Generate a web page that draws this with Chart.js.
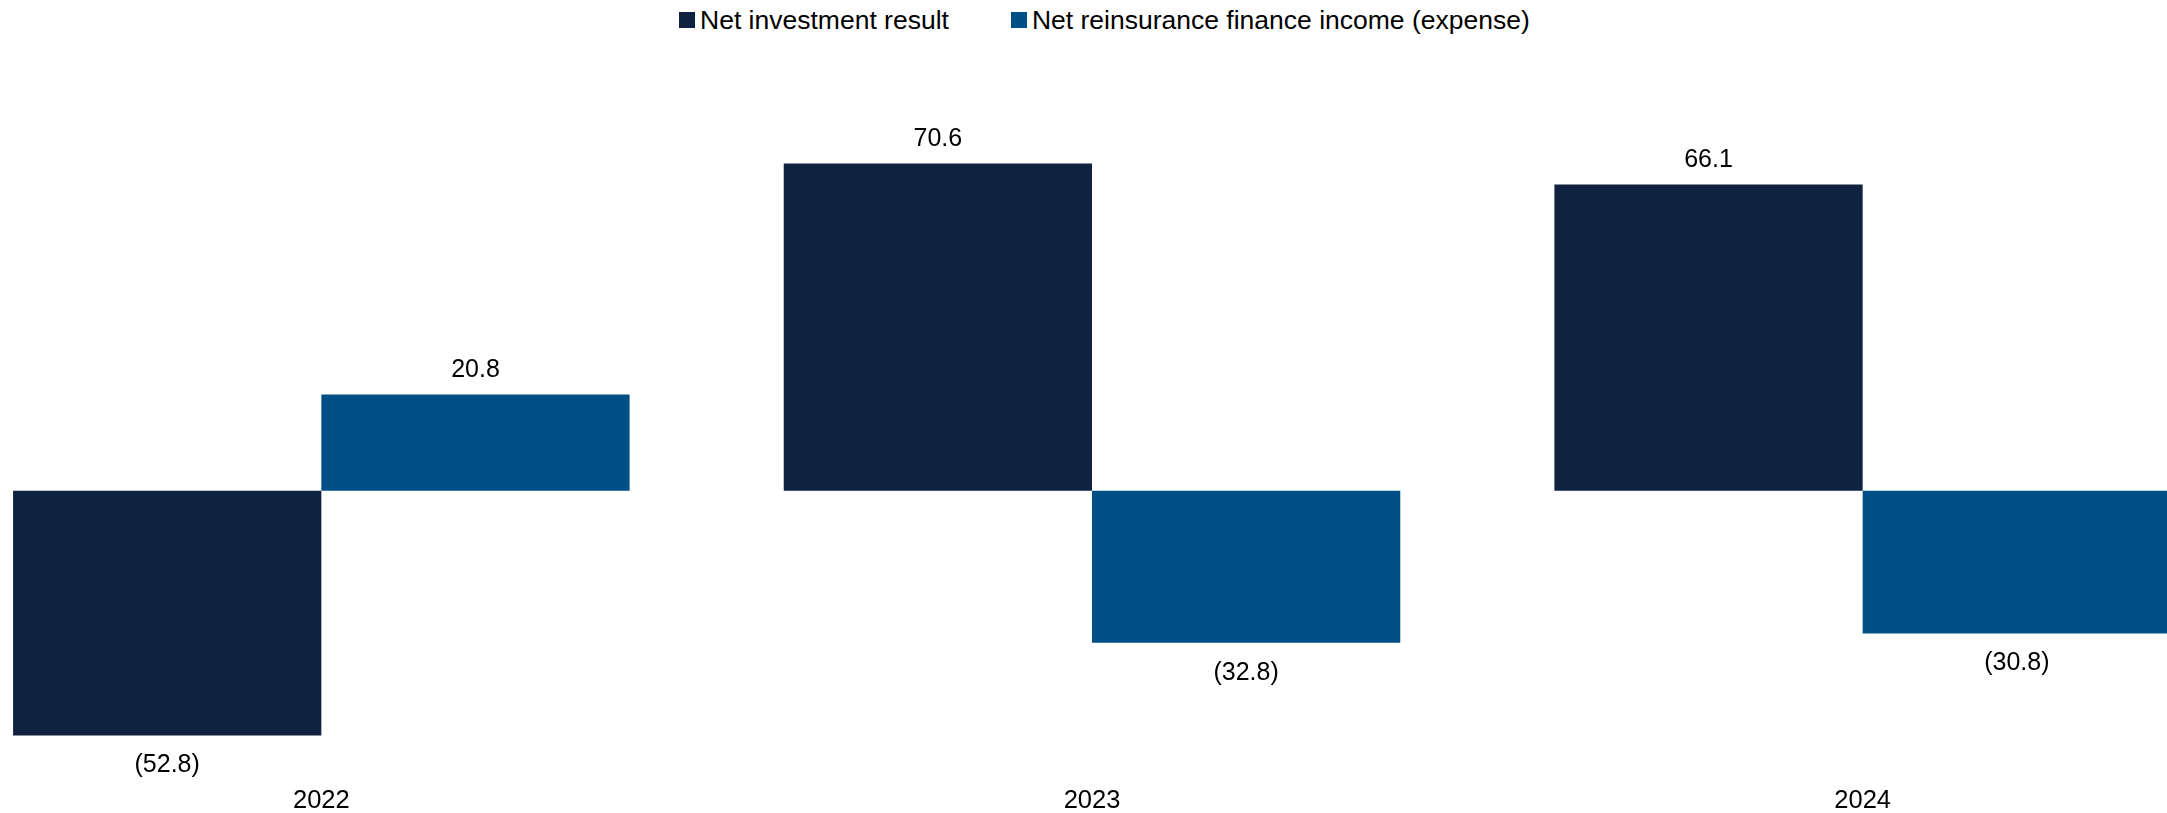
<!DOCTYPE html>
<html>
<head>
<meta charset="utf-8">
<script src="https://cdn.jsdelivr.net/npm/chart.js@4/dist/chart.umd.min.js"></script>
<style>
  html, body { margin: 0; padding: 0; background: #fff; }
  #wrap { position: relative; width: 2167px; height: 813px; overflow: hidden; }
  #chart-box { position: absolute; left: -64px; top: 0; width: 2312px; height: 813px; }
  #legend {
    position: absolute; left: 679px; top: 7px;
    display: flex; align-items: center;
    font: 26.5px "Liberation Sans", Arial, sans-serif; line-height: 26px; color: #000;
  }
  .leg-item { display: flex; align-items: center; margin-right: 62px; }
  .leg-box { width: 16px; height: 16px; margin-right: 5px; }
</style>
</head>
<body>
<div id="wrap">
  <div id="legend"></div>
  <div id="chart-box"><canvas id="chart" width="2312" height="813"></canvas></div>
</div>
<script>
// Годы и значения по двум рядам
const years = ['2022', '2023', '2024'];
const seriesNames = ['Net investment result', 'Net reinsurance finance income (expense)'];
const investmentResult = [-52.8, 70.6, 66.1];
const reinsuranceFinance = [20.8, -32.8, -30.8];
const seriesColors = ['#0f2340', '#005087'];

const FONT = '"Liberation Sans", Arial, sans-serif';

// Формат подписи: отрицательные в скобках
function fmt(v) {
    return v < 0 ? `(${Math.abs(v).toFixed(1)})` : v.toFixed(1);
}

// Подписи значений над/под столбцами
const valueLabels = {
    id: 'valueLabels',
    afterDatasetsDraw(chart) {
        const ctx = chart.ctx;
        ctx.save();
        ctx.font = `25px ${FONT}`;
        ctx.fillStyle = '#000';
        ctx.textAlign = 'center';
        ctx.textBaseline = 'middle';
        chart.data.datasets.forEach((ds, i) => {
            chart.getDatasetMeta(i).data.forEach((bar, j) => {
                const v = ds.data[j];
                const y = v >= 0 ? bar.y - 24 : bar.y + 30;
                ctx.fillText(fmt(v), bar.x, y);
            });
        });
        ctx.restore();
    }
};

// Легенда
document.getElementById('legend').innerHTML = seriesNames.map((name, i) => `
    <div class="leg-item"><div class="leg-box" style="background:${seriesColors[i]}"></div>${name}</div>
`).join('');

const ctx = document.getElementById('chart').getContext('2d');
new Chart(ctx, {
    type: 'bar',
    data: {
        labels: years,
        datasets: [{
            label: seriesNames[0],
            data: investmentResult,
            backgroundColor: seriesColors[0]
        }, {
            label: seriesNames[1],
            data: reinsuranceFinance,
            backgroundColor: seriesColors[1]
        }]
    },
    options: {
        responsive: false,
        animation: false,
        devicePixelRatio: 1,
        categoryPercentage: 0.8,
        barPercentage: 1.0,
        layout: { padding: { top: 120, left: 0, right: 0, bottom: 0 } },
        plugins: {
            legend: { display: false },
            tooltip: { enabled: false }
        },
        scales: {
            x: {
                grid: { display: false },
                border: { display: false },
                ticks: { color: '#000', font: { family: FONT, size: 25.5 }, padding: -2 },
                afterFit(scale) { scale.height = 33; }
            },
            y: {
                display: false,
                min: -62.4,
                max: 80
            }
        }
    },
    plugins: [valueLabels]
});
</script>
</body>
</html>
